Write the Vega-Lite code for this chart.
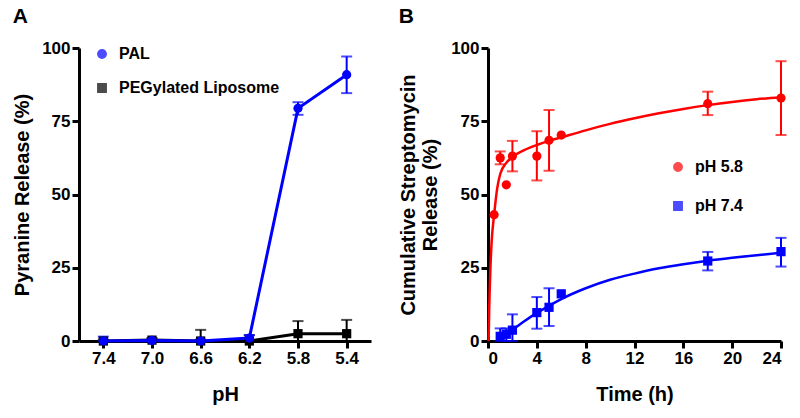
{
  "$schema": "https://vega.github.io/schema/vega-lite/v6.json",
  "padding": {"left": 12, "top": 6, "right": 5, "bottom": 5},
  "spacing": 27,
  "datasets": {
    "pyranine": [
      {"series": "PEGylated Liposome", "pH": "7.4", "y": 0, "lo": 0, "hi": 0.5},
      {"series": "PEGylated Liposome", "pH": "7.0", "y": 0.3, "lo": 0, "hi": 1},
      {"series": "PEGylated Liposome", "pH": "6.6", "y": 0, "lo": 0, "hi": 3.8},
      {"series": "PEGylated Liposome", "pH": "6.2", "y": 0, "lo": 0, "hi": 2},
      {"series": "PEGylated Liposome", "pH": "5.8", "y": 2.5, "lo": 0, "hi": 6.8},
      {"series": "PEGylated Liposome", "pH": "5.4", "y": 2.5, "lo": 0, "hi": 7.2},
      {"series": "PAL", "pH": "7.4", "y": 0, "lo": 0, "hi": 1.5},
      {"series": "PAL", "pH": "7.0", "y": 0.2, "lo": 0, "hi": 0.5},
      {"series": "PAL", "pH": "6.6", "y": 0, "lo": 0, "hi": 0.5},
      {"series": "PAL", "pH": "6.2", "y": 1, "lo": 0, "hi": 2},
      {"series": "PAL", "pH": "5.8", "y": 79.4, "lo": 77.2, "hi": 81.5},
      {"series": "PAL", "pH": "5.4", "y": 90.9, "lo": 84.6, "hi": 97.1}
    ],
    "strepPts": [
      {"series": "pH 7.4", "t": 1, "y": 1.6, "lo": 0, "hi": 4.3},
      {"series": "pH 7.4", "t": 1.5, "y": 2.3, "lo": 0, "hi": 4.3},
      {"series": "pH 7.4", "t": 2, "y": 3.7, "lo": 0, "hi": 9.1},
      {"series": "pH 7.4", "t": 4, "y": 9.7, "lo": 4.2, "hi": 15},
      {"series": "pH 7.4", "t": 5, "y": 11.5, "lo": 5.1, "hi": 18},
      {"series": "pH 7.4", "t": 6, "y": 16.1, "lo": null, "hi": null},
      {"series": "pH 7.4", "t": 18, "y": 27.3, "lo": 24.1, "hi": 30.4},
      {"series": "pH 7.4", "t": 24, "y": 30.5, "lo": 25.4, "hi": 35.2},
      {"series": "pH 5.8", "t": 0.5, "y": 43.1, "lo": null, "hi": null},
      {"series": "pH 5.8", "t": 1, "y": 62.5, "lo": 60.3, "hi": 64.7},
      {"series": "pH 5.8", "t": 1.5, "y": 53.3, "lo": null, "hi": null},
      {"series": "pH 5.8", "t": 2, "y": 63.1, "lo": 57.9, "hi": 68.3},
      {"series": "pH 5.8", "t": 4, "y": 63.1, "lo": 54.8, "hi": 71.6},
      {"series": "pH 5.8", "t": 5, "y": 68.5, "lo": 58.1, "hi": 78.8},
      {"series": "pH 5.8", "t": 6, "y": 70.3, "lo": null, "hi": null},
      {"series": "pH 5.8", "t": 18, "y": 81, "lo": 77.1, "hi": 85.1},
      {"series": "pH 5.8", "t": 24, "y": 82.9, "lo": 70.3, "hi": 95.5}
    ],
    "strepFit": [
      {"series": "pH 5.8", "t": 0.05, "y": 0},
      {"series": "pH 5.8", "t": 0.1, "y": 11},
      {"series": "pH 5.8", "t": 0.2, "y": 25},
      {"series": "pH 5.8", "t": 0.3, "y": 34},
      {"series": "pH 5.8", "t": 0.5, "y": 43},
      {"series": "pH 5.8", "t": 0.75, "y": 52},
      {"series": "pH 5.8", "t": 1, "y": 57},
      {"series": "pH 5.8", "t": 1.5, "y": 60.8},
      {"series": "pH 5.8", "t": 2, "y": 62.8},
      {"series": "pH 5.8", "t": 3, "y": 65.2},
      {"series": "pH 5.8", "t": 4, "y": 66.9},
      {"series": "pH 5.8", "t": 5, "y": 68.3},
      {"series": "pH 5.8", "t": 6, "y": 69.5},
      {"series": "pH 5.8", "t": 8, "y": 71.9},
      {"series": "pH 5.8", "t": 10, "y": 74.1},
      {"series": "pH 5.8", "t": 12, "y": 76},
      {"series": "pH 5.8", "t": 14, "y": 77.7},
      {"series": "pH 5.8", "t": 16, "y": 79.2},
      {"series": "pH 5.8", "t": 18, "y": 80.5},
      {"series": "pH 5.8", "t": 20, "y": 81.6},
      {"series": "pH 5.8", "t": 22, "y": 82.5},
      {"series": "pH 5.8", "t": 24, "y": 83.2},
      {"series": "pH 7.4", "t": 0.75, "y": 0.8},
      {"series": "pH 7.4", "t": 1, "y": 1.4},
      {"series": "pH 7.4", "t": 1.5, "y": 2.5},
      {"series": "pH 7.4", "t": 2, "y": 3.8},
      {"series": "pH 7.4", "t": 3, "y": 6.8},
      {"series": "pH 7.4", "t": 4, "y": 9.6},
      {"series": "pH 7.4", "t": 5, "y": 12},
      {"series": "pH 7.4", "t": 6, "y": 14.3},
      {"series": "pH 7.4", "t": 8, "y": 18},
      {"series": "pH 7.4", "t": 10, "y": 20.9},
      {"series": "pH 7.4", "t": 12, "y": 23},
      {"series": "pH 7.4", "t": 14, "y": 24.8},
      {"series": "pH 7.4", "t": 16, "y": 26.2},
      {"series": "pH 7.4", "t": 18, "y": 27.4},
      {"series": "pH 7.4", "t": 20, "y": 28.4},
      {"series": "pH 7.4", "t": 22, "y": 29.3},
      {"series": "pH 7.4", "t": 24, "y": 30.1}
    ]
  },
  "hconcat": [
    {
      "width": 292,
      "height": 293,
      "title": {"text": "A", "anchor": "start", "frame": "bounds", "fontSize": 21, "fontWeight": "bold", "color": "black", "offset": 12},
      "data": {"name": "pyranine"},
      "layer": [
        {
          "mark": {"type": "errorbar", "thickness": 2, "ticks": {"size": 11, "thickness": 2}},
          "encoding": {
            "x": {"field": "pH", "type": "ordinal", "sort": null, "scale": {"type": "point", "padding": 0.5, "domain": ["7.4", "7.0", "6.6", "6.2", "5.8", "5.4"]}, "axis": {"title": "pH", "labelAngle": 0, "titlePadding": 18}},
            "y": {"field": "lo", "type": "quantitative", "title": "Pyranine Release (%)", "scale": {"domain": [0, 100]}},
            "y2": {"field": "hi"},
            "color": {"field": "series", "type": "nominal", "scale": {"domain": ["PAL", "PEGylated Liposome"], "range": ["#0000ff", "#000000"]}}
          }
        },
        {
          "mark": {"type": "line", "strokeWidth": 3},
          "encoding": {
            "x": {"field": "pH", "type": "ordinal", "sort": null},
            "y": {"field": "y", "type": "quantitative", "title": "Pyranine Release (%)"},
            "color": {"field": "series", "type": "nominal"}
          }
        },
        {
          "mark": {"type": "point", "filled": true, "size": 85, "opacity": 1},
          "encoding": {
            "x": {"field": "pH", "type": "ordinal", "sort": null},
            "y": {"field": "y", "type": "quantitative", "title": "Pyranine Release (%)", "axis": {"values": [0, 25, 50, 75, 100], "titlePadding": 9}},
            "shape": {"field": "series", "type": "nominal", "scale": {"domain": ["PAL", "PEGylated Liposome"], "range": ["circle", "square"]}},
            "color": {
              "field": "series", "type": "nominal",
              "legend": {
                "orient": "none", "legendX": 15, "legendY": -2, "title": null, "padding": 0,
                "labelFontSize": 16, "labelFontWeight": "bold", "labelColor": "black", "labelFont": "Liberation Sans", "labelLimit": 400,
                "symbolSize": 70, "symbolOpacity": 1, "rowPadding": 18, "labelOffset": 9
              }
            }
          }
        }
      ]
    },
    {
      "width": 293,
      "height": 293,
      "title": {"text": "B", "anchor": "start", "frame": "bounds", "fontSize": 21, "fontWeight": "bold", "color": "black", "offset": 12},
      "layer": [
        {
          "data": {"name": "strepFit"},
          "mark": {"type": "line", "strokeWidth": 2.5, "interpolate": "monotone"},
          "encoding": {
            "x": {"field": "t", "type": "quantitative", "title": "Time (h)", "scale": {"domain": [0, 24], "nice": false}, "axis": {"values": [0, 4, 8, 12, 16, 20, 24], "titlePadding": 18}},
            "y": {"field": "y", "type": "quantitative", "title": ["Cumulative Streptomycin", "Release (%)"], "scale": {"domain": [0, 100]}, "axis": {"values": [0, 25, 50, 75, 100], "titlePadding": 10, "titleLineHeight": 22}},
            "color": {"field": "series", "type": "nominal", "scale": {"domain": ["pH 5.8", "pH 7.4"], "range": ["#ff0000", "#0000ff"]}}
          }
        },
        {
          "data": {"name": "strepPts"},
          "transform": [{"filter": "datum.lo != null"}],
          "mark": {"type": "errorbar", "thickness": 2, "ticks": {"size": 11, "thickness": 2}},
          "encoding": {
            "x": {"field": "t", "type": "quantitative", "title": "Time (h)"},
            "y": {"field": "lo", "type": "quantitative", "title": ["Cumulative Streptomycin", "Release (%)"]},
            "y2": {"field": "hi"},
            "color": {"field": "series", "type": "nominal"}
          }
        },
        {
          "data": {"name": "strepPts"},
          "mark": {"type": "point", "filled": true, "size": 85, "opacity": 1},
          "encoding": {
            "x": {"field": "t", "type": "quantitative", "title": "Time (h)"},
            "y": {"field": "y", "type": "quantitative", "title": ["Cumulative Streptomycin", "Release (%)"]},
            "shape": {"field": "series", "type": "nominal", "scale": {"domain": ["pH 5.8", "pH 7.4"], "range": ["circle", "square"]}},
            "color": {
              "field": "series", "type": "nominal",
              "legend": {
                "orient": "none", "legendX": 182, "legendY": 111, "title": null, "padding": 0,
                "labelFontSize": 16, "labelFontWeight": "bold", "labelColor": "black", "labelFont": "Liberation Sans", "labelLimit": 400,
                "symbolSize": 70, "symbolOpacity": 1, "rowPadding": 23, "labelOffset": 9
              }
            }
          }
        }
      ]
    }
  ],
  "resolve": {
    "scale": {"color": "independent", "shape": "independent"},
    "legend": {"color": "independent", "shape": "independent"}
  },
  "config": {
    "font": "Liberation Sans",
    "background": "white",
    "view": {"stroke": null},
    "axis": {
      "grid": false,
      "domainColor": "black",
      "domainWidth": 3,
      "tickColor": "black",
      "tickWidth": 3,
      "tickSize": 7,
      "labelFont": "Liberation Sans",
      "labelFontSize": 17,
      "labelFontWeight": "bold",
      "labelColor": "black",
      "labelPadding": 2,
      "titleFont": "Liberation Sans",
      "titleFontSize": 20,
      "titleFontWeight": "bold",
      "titleColor": "black"
    }
  }
}
